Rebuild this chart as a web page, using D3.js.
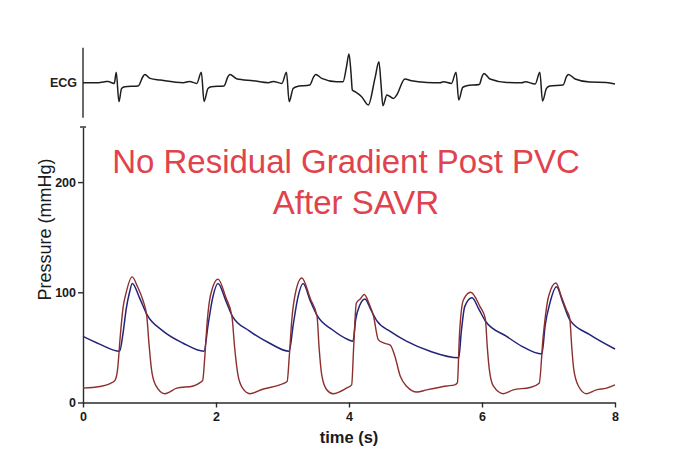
<!DOCTYPE html>
<html>
<head>
<meta charset="utf-8">
<script src="https://cdn.jsdelivr.net/npm/d3@7"></script>
<style>
  html, body { margin: 0; padding: 0; background: #fff; }
  svg { display: block; font-family: "Liberation Sans", Arial, Helvetica, sans-serif; }
</style>
</head>
<body>
<svg id="chart" width="680" height="458"></svg>
<script>
// ---------- DATA ----------
const titleLines = ["No Residual Gradient Post PVC", "After SAVR"];
const xTicks = [0, 2, 4, 6, 8];
const yTicks = [0, 100, 200];

// ECG trace (time s, arbitrary amplitude)
const ecgTime = [0,0.2,0.33,0.38,0.43,0.47,0.50,0.54,0.58,0.63,0.83,0.90,0.93,1.01,1.16,1.51,1.6,1.71,
  1.78,1.82,1.88,1.93,2.12,2.18,2.21,2.31,2.56,2.79,2.86,2.99,
  3.06,3.10,3.16,3.21,3.41,3.47,3.50,3.59,3.81,3.91,
  3.96,4.00,4.03,4.05,4.09,4.19,4.29,4.39,4.45,4.48,4.51,4.57,4.67,4.72,4.84,4.94,5.17,5.37,5.42,5.54,
  5.61,5.65,5.71,5.77,5.96,6.00,6.03,6.12,6.37,6.6,6.65,6.80,
  6.87,6.91,6.97,7.02,7.22,7.27,7.30,7.40,7.62,7.87,8.0];
const ecgValue = [0,0,0.1,0.13,0,-0.07,1.04,-1.9,-0.57,-0.4,-0.33,0.6,0.83,0.43,0.27,0,0.13,-0.07,
  1.04,-1.87,-0.57,-0.4,-0.33,0.6,0.83,0.4,0.2,0,0.13,-0.07,
  1.04,-1.9,-0.57,-0.4,-0.23,0.6,0.83,0.43,0.1,0.1,
  1.5,2.87,1.0,-0.73,-0.9,-1.4,-2.23,0.43,2.1,0,-2.3,-1.23,-1.57,-1.2,0.37,0.2,0.03,0,0.1,-0.07,
  1.04,-1.73,-0.47,-0.3,-0.17,0.6,0.93,0.37,0.03,0,0.1,-0.13,
  1.04,-1.83,-0.57,-0.33,-0.23,0.6,0.83,0.37,0.07,0.03,-0.13];

// Aortic pressure (blue), mmHg
const aoTime = [0,0.25,0.55,0.6,0.65,0.70,0.74,0.85,0.96,1.2,1.5,1.82,1.88,1.95,2.03,2.15,2.25,2.5,2.8,
  3.10,3.16,3.23,3.31,3.42,3.52,3.75,3.99,4.06,4.10,4.16,4.24,4.33,4.42,4.62,4.87,5.22,5.65,
  5.69,5.74,5.85,5.95,6.05,6.37,6.6,6.90,6.95,7.02,7.12,7.22,7.32,7.62,8.0];
const aoPressure = [60,53,46.5,62,85,100,108,95,80,65,54,46.5,70,95,108,92,78,65,54,
  46.5,70,95,108,92,79,66,57,55.5,75,88,94,84,74,64.5,55.5,46.5,40.5,
  65,87,95,85,74,60,51,44,70,90,105,90,75,61.5,48.5];

// Left-ventricular pressure (red), mmHg
const lvTime = [0,0.25,0.40,0.48,0.52,0.56,0.60,0.65,0.74,0.82,0.90,0.96,0.99,1.03,1.09,1.23,1.41,1.66,1.76,
  1.80,1.83,1.87,1.92,2.03,2.15,2.24,2.28,2.33,2.40,2.51,2.7,2.96,3.07,
  3.10,3.14,3.19,3.29,3.42,3.52,3.55,3.59,3.66,3.76,3.96,4.04,
  4.07,4.11,4.17,4.23,4.30,4.37,4.44,4.52,4.62,4.69,4.77,4.87,5.02,5.17,5.47,5.59,5.63,
  5.66,5.72,5.83,5.97,6.05,6.08,6.11,6.17,6.32,6.47,6.72,6.86,
  6.92,7.0,7.11,7.20,7.27,7.32,7.35,7.38,7.45,7.57,7.72,7.87,8.0];
const lvPressure = [13,14.5,17,20,30,60,85,100,114,105,93,78,55,30,16,8,13,15,18,
  20,40,75,98,112,95,78,50,25,13,8,12,16,19,
  40,75,98,113,94,78,50,25,12,8,13,16,
  50,90,94,98,90,78,57,54,52,42,24,14.5,9.5,11.5,15,16,18,
  60,93,100,87,76,50,30,15,8,11.5,13.6,17.5,
  60,96,108.5,95,84,76,50,30,15,8,11.5,13,16];

// ---------- CHART ----------
const svg = d3.select("#chart");
const x = d3.scaleLinear().domain([0, 8]).range([83, 615]);
const y = d3.scaleLinear().domain([0, 250]).range([402.5, 127]);
const yEcg = d3.scaleLinear().domain([-3.5, 3.5]).range([117.7, 47.7]);

const axisColor = "#2a2a2a";

// ECG axis line
svg.append("line")
  .attr("x1", x(0)).attr("x2", x(0))
  .attr("y1", yEcg(3.5)).attr("y2", yEcg(-3.5))
  .attr("stroke", axisColor).attr("stroke-width", 1.4);
svg.append("text")
  .attr("x", 77).attr("y", yEcg(0) + 4.5)
  .attr("text-anchor", "end")
  .attr("font-size", 12.5).attr("font-weight", "bold").attr("fill", "#222")
  .text("ECG");

const ecgLine = d3.line().x(d => x(d[0])).y(d => yEcg(d[1])).curve(d3.curveMonotoneX);
svg.append("path")
  .datum(ecgTime.map((t, i) => [t, ecgValue[i]]))
  .attr("d", ecgLine)
  .attr("fill", "none").attr("stroke", "#1e1e1e").attr("stroke-width", 1.5)
  .attr("stroke-linejoin", "round");

// Axes
const yAxis = d3.axisLeft(y).tickValues(yTicks).tickSize(5).tickSizeOuter(0).tickPadding(2);
const gy = svg.append("g").attr("transform", `translate(${x(0)},0)`).call(yAxis);
const xAxis = d3.axisBottom(x).tickValues(xTicks).tickSize(5).tickSizeOuter(0).tickPadding(5);
const gx = svg.append("g").attr("transform", `translate(0,${y(0)})`).call(xAxis);
[gx, gy].forEach(g => {
  g.selectAll("path, line").attr("stroke", axisColor).attr("stroke-width", 1.4);
  g.selectAll("text").attr("font-size", 12.5).attr("font-weight", "bold").attr("fill", "#1a1a1a")
    .attr("font-family", "'Liberation Sans', Arial, sans-serif");
});
// top cap of pressure axis
svg.append("line")
  .attr("x1", x(0) - 3).attr("x2", x(0) + 3)
  .attr("y1", y(250)).attr("y2", y(250))
  .attr("stroke", axisColor).attr("stroke-width", 1.4);

// Axis titles
svg.append("text")
  .attr("transform", `translate(51,${y(157)}) rotate(-90)`)
  .attr("text-anchor", "middle")
  .attr("font-size", 18).attr("fill", "#1a1a1a")
  .text("Pressure (mmHg)");
svg.append("text")
  .attr("x", x(4)).attr("y", 443)
  .attr("text-anchor", "middle")
  .attr("font-size", 16.5).attr("font-weight", "bold").attr("fill", "#1a1a1a")
  .text("time (s)");

// Pressure traces
const pLine = d3.line().x(d => x(d[0])).y(d => y(d[1])).curve(d3.curveMonotoneX);
svg.append("path")
  .datum(aoTime.map((t, i) => [t, aoPressure[i]]))
  .attr("d", pLine)
  .attr("fill", "none").attr("stroke", "#23237a").attr("stroke-width", 1.5);
svg.append("path")
  .datum(lvTime.map((t, i) => [t, lvPressure[i]]))
  .attr("d", pLine)
  .attr("fill", "none").attr("stroke", "#8c2f2f").attr("stroke-width", 1.4);

// Title
svg.append("text")
  .attr("x", 346).attr("y", 173)
  .attr("text-anchor", "middle")
  .attr("font-size", 33).attr("fill", "#e0434d")
  .text(titleLines[0]);
svg.append("text")
  .attr("x", 356).attr("y", 214)
  .attr("text-anchor", "middle")
  .attr("font-size", 33).attr("fill", "#e0434d")
  .text(titleLines[1]);
</script>
</body>
</html>
